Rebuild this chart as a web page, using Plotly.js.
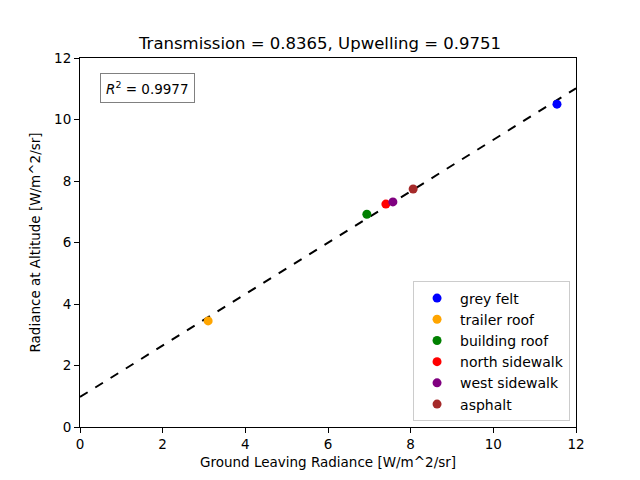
<!DOCTYPE html>
<html><head><meta charset="utf-8">
<script src="https://cdn.plot.ly/plotly-3.0.1.min.js"></script>
<style>body{margin:0;padding:0;background:#fff}#chart{width:640px;height:480px}</style>
</head><body><div id="chart"></div>
<script>
const names = ["grey felt","trailer roof","building roof","north sidewalk","west sidewalk","asphalt"];
const colors = ["blue","orange","green","red","purple","brown"];
const groundRad = [11.54, 3.10, 6.94, 7.40, 7.57, 8.06];
const altitudeRad = [10.50, 3.45, 6.92, 7.25, 7.32, 7.74];
const transmission = 0.8365;
const upwelling = 0.9751;
const r2 = 0.9977;
const fitX = [0, 12];

const font = "DejaVu Sans, sans-serif";
const traces = [];
traces.push({
  x: fitX, y: fitX.map(v => transmission*v + upwelling),
  mode: "lines", line: {color: "black", dash: "dash", width: 2},
  showlegend: false, hoverinfo: "skip"
});
names.forEach((n, i) => {
  traces.push({
    x: [groundRad[i]], y: [altitudeRad[i]], mode: "markers", name: n,
    marker: {color: colors[i], size: 9}
  });
});

const axisCommon = {
  range: [0, 12], dtick: 2, showgrid: false, zeroline: false,
  showline: true, linecolor: "black", linewidth: 1, mirror: true,
  ticks: "outside", ticklen: 5, tickcolor: "black",
  tickfont: {family: font, size: 13.5, color: "black"}
};
const layout = {
  width: 640, height: 480,
  margin: {l: 80, r: 64, t: 58, b: 53},
  paper_bgcolor: "white", plot_bgcolor: "white",
  title: {text: "Transmission = " + transmission + ", Upwelling = " + upwelling,
    font: {family: font, size: 16.5, color: "black"}, x: 0.5, xanchor: "center", y: 0.91, yanchor: "middle"},
  xaxis: Object.assign({}, axisCommon, {title: {text: "Ground Leaving Radiance [W/m^2/sr]", font: {family: font, size: 13.5, color: "black"}, standoff: 6}}),
  yaxis: Object.assign({}, axisCommon, {title: {text: "Radiance at Altitude [W/m^2/sr]", font: {family: font, size: 13.5, color: "black"}, standoff: 10}}),
  legend: {x: 0.988, y: 0.015, xanchor: "right", yanchor: "bottom",
    bordercolor: "#cccccc", borderwidth: 1, bgcolor: "rgba(255,255,255,0.8)",
    font: {family: font, size: 14, color: "black"}, tracegroupgap: 0, itemwidth: 36},
  annotations: [{
    xref: "paper", yref: "paper", x: 0.04, y: 0.96, xanchor: "left", yanchor: "top",
    text: "<i>R</i><sup>2</sup> = " + r2, showarrow: false,
    font: {family: font, size: 13.5, color: "black"},
    bordercolor: "#808080", borderwidth: 1, borderpad: 5, bgcolor: "white"
  }]
};
Plotly.newPlot("chart", traces, layout, {displayModeBar: false, staticPlot: true});
</script></body></html>
